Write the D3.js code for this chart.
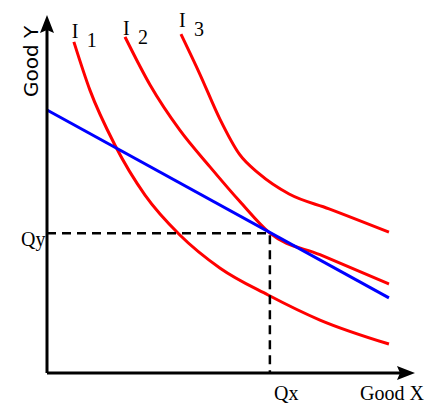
<!DOCTYPE html><html><head><script src="https://cdn.jsdelivr.net/npm/d3@7"></script>
<style>body{margin:0;background:#fff}</style></head><body><svg id="c" width="440" height="415"></svg><script>
const I1x=[7.4,11.8,18.7,27.0,36.6,47.7,60.9,75.2,94.2], I1y=[93.8,80.2,64.6,50.4,39.1,29.7,22.1,15.0,8.2];
const I2x=[21.5,28.4,36.6,44.9,53.2,61.4,75.2,94.2], I2y=[95.2,81.6,68.8,58.4,48.5,39.6,33.5,25.2];
const I3x=[36.9,42.1,47.6,53.0,58.5,66.7,77.7,94.2], I3y=[96.0,84.7,72.0,62.0,56.4,50.7,46.5,39.9];
const budgetX=[0,94.2], budgetY=[74.5,21.3];
const Q=[61.4,39.6];
const curveLabels=["1","2","3"];
const svg=d3.select("#c");
const x=d3.scaleLinear().domain([0,100]).range([47,410]);
const y=d3.scaleLinear().domain([0,100]).range([373,20]);
const F="DejaVu Sans, sans-serif";
const line=d3.line().x(d=>x(d[0])).y(d=>y(d[1])).curve(d3.curveMonotoneX);
[[I1x,I1y],[I2x,I2y],[I3x,I3y]].forEach(([a,b])=>{
 svg.append("path").attr("d",line(a.map((v,i)=>[v,b[i]]))).attr("fill","none").attr("stroke","#f00").attr("stroke-width",3);
});
svg.append("path").attr("d",d3.line().x(d=>x(d[0])).y(d=>y(d[1]))(budgetX.map((v,i)=>[v,budgetY[i]]))).attr("stroke","#00f").attr("stroke-width",3).attr("fill","none");
svg.append("path").attr("d",`M${x(0)},${y(Q[1])}H${x(Q[0])}V${y(0)}`).attr("fill","none").attr("stroke","#000").attr("stroke-width",2.5).attr("stroke-dasharray","9,6");
svg.append("path").attr("d",`M${x(0)},${y(0)}H400M${x(0)},${y(0)}V30`).attr("stroke","#000").attr("stroke-width",3).attr("fill","none");
svg.append("path").attr("d",`M415,${y(0)}L397,${y(0)-7}L400,${y(0)}L397,${y(0)+7}Z`).attr("fill","#000");
svg.append("path").attr("d",`M${x(0)},15L${x(0)-7},33L${x(0)},30L${x(0)+7},33Z`).attr("fill","#000");
const t=(s,px,py,o={})=>svg.append("text").text(s).attr("x",px).attr("y",py).attr("font-family",o.f||F).attr("font-size",o.fs||19).attr("text-anchor",o.a||"start").attr("transform",o.r||null);
const S="Liberation Serif, serif";
t("Good Y",0,0,{r:"translate(38,97) rotate(-90)",fs:20});
t("Good X",360,400,{f:S,fs:20});
t("Qy",21,246,{f:S,fs:20});t("Qx",274,400,{f:S,fs:20});
[[x(I1x[0]),38],[x(I2x[0]),35],[x(I3x[0]),27]].forEach(([px,py],i)=>{t("I",px-2,py,{f:S,fs:20});t(curveLabels[i],px+13,py+9,{f:S,fs:20});});
</script></body></html>
